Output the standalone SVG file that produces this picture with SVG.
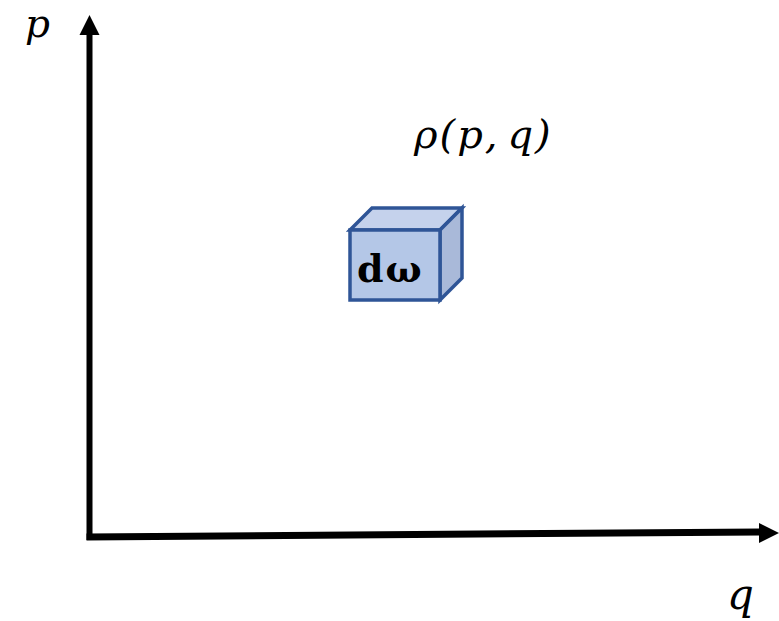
<svg xmlns="http://www.w3.org/2000/svg" width="779" height="621" viewBox="0 0 779 621">
<style>
.lbl{font-family:"DejaVu Serif","Liberation Serif",serif;font-style:italic;fill:#000}
.cube{stroke:#2F5597;stroke-width:3.5;stroke-linejoin:miter}
</style>
<rect width="779" height="621" fill="#fff"/>
<g id="axes">
<line x1="89.5" y1="540" x2="89.5" y2="34" stroke="#000" stroke-width="6"/>
<polygon points="89.5,15 79.5,35 99.5,35" fill="#000"/>
<line x1="86.5" y1="537" x2="760" y2="532" stroke="#000" stroke-width="7"/>
<polygon points="779,533 759,523 759,543" fill="#000"/>
</g>
<g id="labels">
<text class="lbl" x="25" y="37" font-size="39">p</text>
<text class="lbl" x="727" y="609" font-size="42">q</text>
<text class="lbl" x="414" y="148" font-size="40" letter-spacing="2" font-style="normal"><tspan font-style="italic">ρ</tspan>(<tspan font-style="italic">p</tspan>,<tspan font-style="italic" dx="8">q</tspan>)</text>
</g>
<g id="cube">
<polygon class="cube" points="350,230 372,208 462,208 440,230" fill="#C5D2EC"/>
<polygon class="cube" points="440,230 462,208 462,278 440,300" fill="#A9B9D9"/>
<rect class="cube" x="350" y="230" width="90" height="70" fill="#B4C7E7"/>
<text x="357" y="282" font-family="DejaVu Serif,serif" font-weight="bold" font-size="38" letter-spacing="2" fill="#000">dω</text>
</g>
</svg>
